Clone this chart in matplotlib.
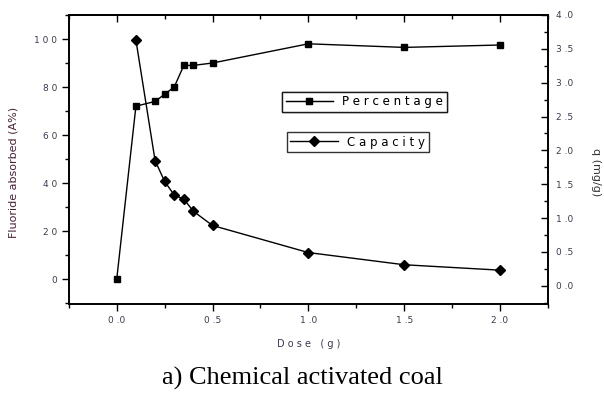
import numpy as np
import matplotlib.pyplot as plt
from matplotlib.ticker import MultipleLocator

# data
dose_pct = [0.0, 0.1, 0.2, 0.25, 0.3, 0.35, 0.4, 0.5, 1.0, 1.5, 2.0]
percentage = [0, 72, 74, 77, 80, 89, 89, 90, 98, 96.5, 97.5]
dose_cap = [0.1, 0.2, 0.25, 0.3, 0.35, 0.4, 0.5, 1.0, 1.5, 2.0]
capacity = [3.63, 1.85, 1.54, 1.34, 1.28, 1.1, 0.89, 0.49, 0.31, 0.23]

xticks = [0.0, 0.5, 1.0, 1.5, 2.0]
xtick_labels = ['0 .0', '0 .5', '1 .0', '1 .5', '2 .0']
lticks = [0, 20, 40, 60, 80, 100]
lticks_labels = ['0', '2 0', '4 0', '6 0', '8 0', '1 0 0']
rticks = [0.0, 0.5, 1.0, 1.5, 2.0, 2.5, 3.0, 3.5, 4.0]
rticks_labels = ['0 .0', '0 .5', '1 .0', '1 .5', '2 .0', '2 .5', '3 .0', '3 .5', '4 .0']

txt = '#3a3a55'

fig = plt.figure(figsize=(6.04, 4.0), dpi=100)
ax = fig.add_axes([0.114, 0.24, 0.793, 0.7225])
ax2 = ax.twinx()

l1, = ax.plot(dose_pct, percentage, color='black', lw=1, marker='s', ms=5,
              label='P e r c e n t a g e')
l2, = ax2.plot(dose_cap, capacity, color='black', lw=1, marker='D', ms=5.5,
               label='C a p a c i t y')

ax.set_xlim(-0.25, 2.25)
ax.set_ylim(-10.4, 110)
ax2.set_ylim(-0.27, 4.0)

ax.set_xticks(xticks)
ax.set_xticklabels(xtick_labels)
ax.xaxis.set_minor_locator(MultipleLocator(0.25))
ax.set_yticks(lticks)
ax.set_yticklabels(lticks_labels)
ax.yaxis.set_minor_locator(MultipleLocator(10))
ax2.set_yticks(rticks)
ax2.set_yticklabels(rticks_labels)
ax2.yaxis.set_minor_locator(MultipleLocator(0.25))

# top axis: inward ticks, no labels
top = ax.secondary_xaxis('top')
top.set_xticks(xticks)
top.set_xticklabels([])
top.xaxis.set_minor_locator(MultipleLocator(0.25))
top.tick_params(which='both', direction='in', width=1)
top.tick_params(which='major', length=5)
top.tick_params(which='minor', length=3)
top.spines['top'].set_linewidth(1.2)

ax.tick_params(axis='x', which='both', direction='out', labelsize=6.5,
               labelcolor=txt, width=1)
ax.tick_params(axis='x', which='major', length=5)
ax.tick_params(axis='x', which='minor', length=3)
ax.tick_params(axis='y', which='both', direction='out', labelsize=6.5,
               labelcolor=txt, width=1)
ax.tick_params(axis='y', which='major', length=5)
ax.tick_params(axis='y', which='minor', length=3)
ax2.tick_params(axis='y', which='both', direction='in', labelsize=6.5,
                labelcolor=txt, width=1, pad=6)
ax2.tick_params(axis='y', which='major', length=5)
ax2.tick_params(axis='y', which='minor', length=3)

for a in (ax, ax2):
    for s in a.spines.values():
        s.set_linewidth(1.2)

ax.set_xlabel('D o s e   ( g )', fontsize=7, color=txt, labelpad=10)
fig.text(0.022, 0.57, 'Fluoride absorbed (A%)', fontsize=8, color='#4a2035',
         rotation=90, ha='center', va='center')
fig.text(0.986, 0.57, 'q (mg/g)', fontsize=8, color='#333333', rotation=270,
         ha='center', va='center')

leg1 = ax.legend(handles=[l1], loc='upper left', bbox_to_anchor=(0.445, 0.734),
                 fontsize=8.5, frameon=True, fancybox=False, edgecolor='black',
                 handlelength=4.0, borderpad=0.3, borderaxespad=0)
leg1.get_frame().set_linewidth(1)
ax.add_artist(leg1)
leg2 = ax2.legend(handles=[l2], loc='upper left', bbox_to_anchor=(0.455, 0.595),
                  fontsize=8.5, frameon=True, fancybox=False, edgecolor='black',
                  handlelength=4.0, borderpad=0.3, borderaxespad=0)
leg2.get_frame().set_linewidth(1)

fig.text(0.5, 0.055, 'a) Chemical activated coal', ha='center', va='center',
         fontsize=19, family='Liberation Serif')

fig.savefig('out.png', dpi=100)
